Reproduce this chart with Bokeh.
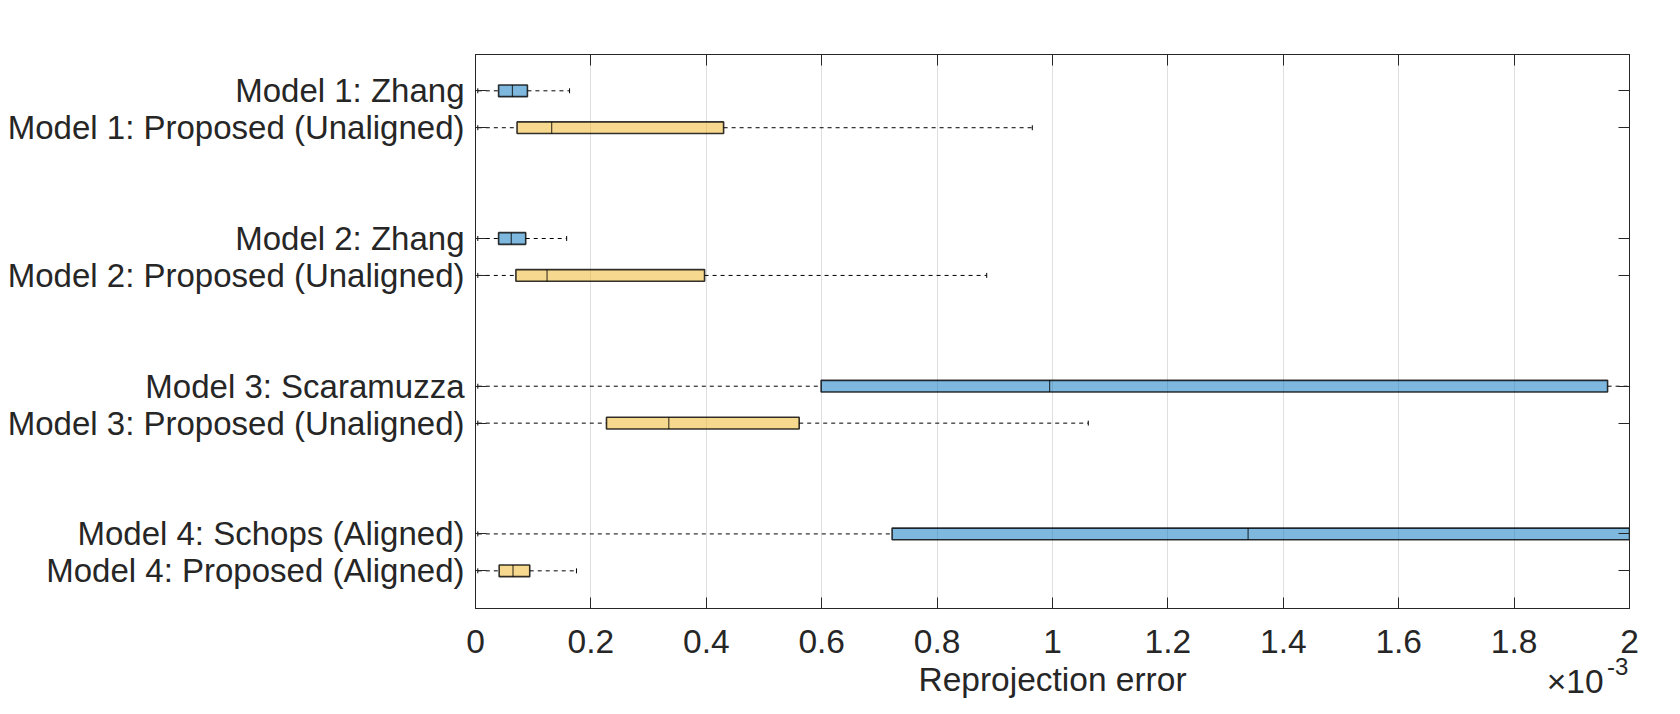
from bokeh.plotting import figure
from bokeh.models import Range1d, FixedTicker, LinearAxis, Label, CustomJSTickFormatter
from bokeh.embed import file_html
from bokeh.resources import INLINE

# ---- data (reprojection error, in units of 1e-3) ----
labels = [
    "Model 1: Zhang",
    "Model 1: Proposed (Unaligned)",
    "Model 2: Zhang",
    "Model 2: Proposed (Unaligned)",
    "Model 3: Scaramuzza",
    "Model 3: Proposed (Unaligned)",
    "Model 4: Schops (Aligned)",
    "Model 4: Proposed (Aligned)",
]
group = [0, 0, 1, 1, 2, 2, 3, 3]
member = [0, 1, 0, 1, 0, 1, 0, 1]
kind = ["baseline", "proposed"] * 4

whisker_low = [0.004, 0.004, 0.004, 0.004, 0.004, 0.004, 0.004, 0.004]
q1 = [0.040, 0.072, 0.040, 0.070, 0.599, 0.227, 0.722, 0.041]
median = [0.064, 0.132, 0.062, 0.124, 0.995, 0.335, 1.339, 0.065]
q3 = [0.090, 0.430, 0.087, 0.397, 1.962, 0.561, 2.450, 0.094]
whisker_high = [0.163, 0.965, 0.158, 0.886, 3.900, 1.062, 4.000, 0.175]

x_ticks = [0, 0.2, 0.4, 0.6, 0.8, 1, 1.2, 1.4, 1.6, 1.8, 2]
x_tick_labels = ["0", "0.2", "0.4", "0.6", "0.8", "1", "1.2", "1.4", "1.6", "1.8", "2"]
x_title = "Reprojection error"

# ---- layout helpers ----
pos = [1 + 4 * g + m for g, m in zip(group, member)]
fill_map = {"baseline": "#0072BD", "proposed": "#EDB120"}
fills = [fill_map[k] for k in kind]
BOX_H = 0.316
CAP_H = 0.135
FONT = "Liberation Sans"
FS = "33.5px"
TXT = "#262626"

p = figure(width=1664, height=698, output_backend="svg", toolbar_location=None,
           x_range=Range1d(0, 2), y_range=Range1d(15.02, 0.017),
           min_border_left=475, min_border_right=35, min_border_top=54,
           min_border_bottom=90)
p.background_fill_color = "white"
p.border_fill_color = "white"
p.outline_line_color = TXT
p.outline_line_width = 1

# whiskers
p.segment(x0=q3, x1=whisker_high, y0=pos, y1=pos, line_color="black",
          line_width=1, line_dash="4 4")
p.segment(x0=whisker_low, x1=q1, y0=pos, y1=pos, line_color="black",
          line_width=1, line_dash="4 4")
# caps
p.segment(x0=whisker_high, x1=whisker_high, y0=[y - CAP_H / 2 for y in pos],
          y1=[y + CAP_H / 2 for y in pos], line_color="black", line_width=1)
p.segment(x0=whisker_low, x1=whisker_low, y0=[y - CAP_H / 2 for y in pos],
          y1=[y + CAP_H / 2 for y in pos], line_color="black", line_width=1)
# boxes
p.hbar(y=pos, left=q1, right=q3, height=BOX_H, fill_color=fills, fill_alpha=0.5,
       line_color="black", line_alpha=0.8, line_width=1.6)
# medians
p.segment(x0=median, x1=median, y0=[y - BOX_H / 2 for y in pos],
          y1=[y + BOX_H / 2 for y in pos], line_color="black", line_alpha=0.7,
          line_width=1.2)

# ---- axes ----
xa = p.xaxis[0]
xa.ticker = FixedTicker(ticks=x_ticks)
xa.major_label_overrides = {t: s for t, s in zip(x_ticks, x_tick_labels)}
xa.major_tick_in = 11
xa.major_tick_out = 0
xa.minor_tick_line_color = None
xa.axis_line_color = TXT
xa.major_tick_line_color = TXT
xa.major_label_text_font = FONT
xa.major_label_text_font_size = FS
xa.major_label_text_color = TXT
xa.major_label_standoff = 21

ya = p.yaxis[0]
ya.ticker = FixedTicker(ticks=pos)
ya.major_label_overrides = {t: s for t, s in zip(pos, labels)}
ya.major_tick_in = 11
ya.major_tick_out = 0
ya.minor_tick_line_color = None
ya.axis_line_color = TXT
ya.major_tick_line_color = TXT
ya.major_label_text_font = FONT
ya.major_label_text_font_size = "33px"
ya.major_label_text_color = TXT
ya.major_label_standoff = 11

p.xgrid.grid_line_color = "#dfdfdf"
p.xgrid.grid_line_width = 1
p.ygrid.grid_line_color = None

top = LinearAxis(ticker=FixedTicker(ticks=x_ticks),
                 formatter=CustomJSTickFormatter(code="return ''"),
                 major_tick_in=11, major_tick_out=0, minor_tick_line_color=None,
                 axis_line_color=TXT, major_tick_line_color=TXT,
                 major_label_text_font_size="1px", major_label_standoff=0)
p.add_layout(top, "above")
right = LinearAxis(ticker=FixedTicker(ticks=pos),
                   formatter=CustomJSTickFormatter(code="return ''"),
                   major_tick_in=11, major_tick_out=0, minor_tick_line_color=None,
                   axis_line_color=TXT, major_tick_line_color=TXT,
                   major_label_text_font_size="1px", major_label_standoff=0)
p.add_layout(right, "right")

# x-axis title and exponent label; placed in side panels so the frame does not
# clip them, positioned in data units through the plot's scales
p.add_layout(Label(x=1.0, y=16.94, text=x_title, text_align="center",
                   text_baseline="alphabetic", text_font=FONT,
                   text_font_size=FS, text_color=TXT), "below")
p.add_layout(Label(x=1.955, y=16.99, text="\u00d710", text_align="right",
                   text_baseline="alphabetic", text_font=FONT,
                   text_font_size=FS, text_color=TXT), "above")
p.add_layout(Label(x=1.998, y=16.60, text="-3", text_align="right",
                   text_baseline="alphabetic", text_font=FONT,
                   text_font_size="24px", text_color=TXT), "right")

open("out.html", "w").write(file_html(p, INLINE))
